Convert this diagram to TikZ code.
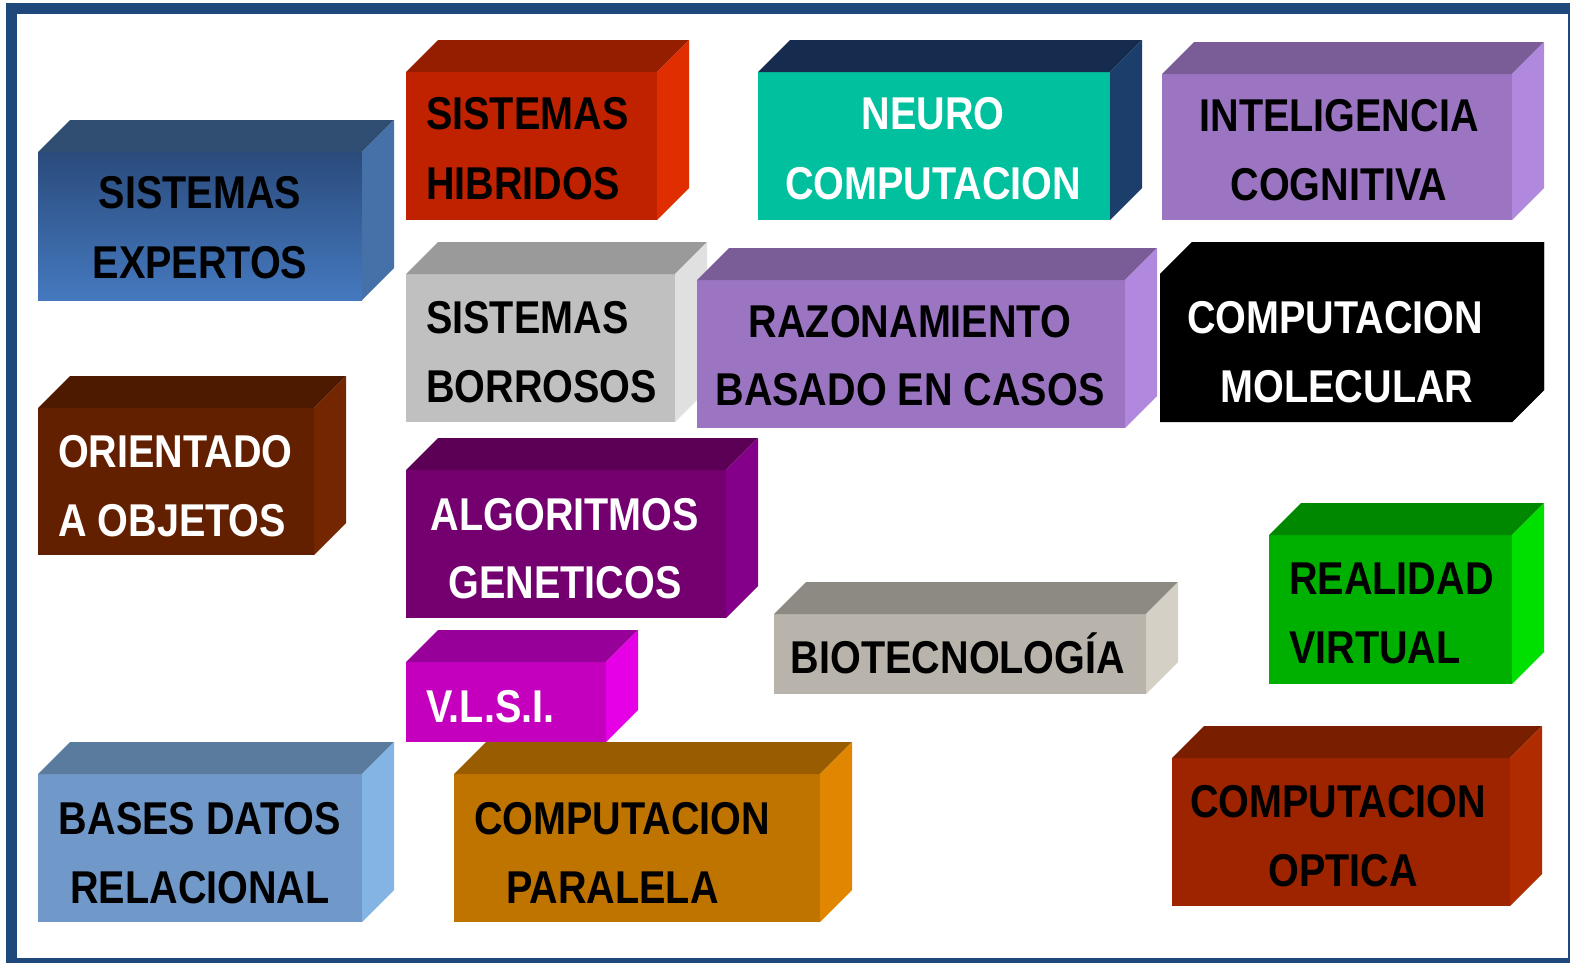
\documentclass[tikz,border=0pt]{standalone}
\usepackage{fontspec}
\newfontfamily\boxfont[FakeStretch=0.86]{Liberation Sans}
\definecolor{frameblue}{HTML}{1F497D}
\definecolor{eA}{HTML}{2A4B7C}\definecolor{eB}{HTML}{4579BF}\definecolor{eT}{HTML}{2F4E72}\definecolor{eS}{HTML}{4670A8}
\definecolor{hF}{HTML}{C02200}\definecolor{hT}{HTML}{961E00}\definecolor{hS}{HTML}{E02E00}
\definecolor{nF}{HTML}{00C09E}\definecolor{nT}{HTML}{152C4E}\definecolor{nS}{HTML}{1C3E6A}
\definecolor{pF}{HTML}{9B75C2}\definecolor{pT}{HTML}{7A5C96}\definecolor{pS}{HTML}{B088DE}
\definecolor{gF}{HTML}{C0C0C0}\definecolor{gT}{HTML}{9A9A9A}\definecolor{gS}{HTML}{E0E0E0}
\definecolor{oF}{HTML}{632000}\definecolor{oT}{HTML}{4D1A00}\definecolor{oS}{HTML}{742600}
\definecolor{aF}{HTML}{740070}\definecolor{aT}{HTML}{5C0056}\definecolor{aS}{HTML}{84008A}
\definecolor{vF}{HTML}{C400BE}\definecolor{vT}{HTML}{98009A}\definecolor{vS}{HTML}{E600E6}
\definecolor{bF}{HTML}{B8B4AC}\definecolor{bT}{HTML}{8C8A82}\definecolor{bS}{HTML}{D4D0C6}
\definecolor{rF}{HTML}{00B000}\definecolor{rT}{HTML}{008800}\definecolor{rS}{HTML}{00E000}
\definecolor{dF}{HTML}{7098C8}\definecolor{dT}{HTML}{5A7A9E}\definecolor{dS}{HTML}{84B4E4}
\definecolor{cF}{HTML}{C07400}\definecolor{cT}{HTML}{9A5C00}\definecolor{cS}{HTML}{E08600}
\definecolor{qF}{HTML}{9E2400}\definecolor{qT}{HTML}{7A1E00}\definecolor{qS}{HTML}{B02C00}
\tikzset{
  face/.style={rectangle, inner sep=0pt, outer sep=0pt, draw=none},
  lbl/.style={font=\boxfont\bfseries\fontsize{46}{55}\selectfont, inner sep=0pt, anchor=base},
  wt/.style={text=white}, bk/.style={text=black}
}
\newcommand\cubo[8]{%
  \node[face, #6, minimum width={#4-#2}, minimum height={#5-#3}] (#1) at ({(#2+#4)/2},{(#3+#5)/2}) {};
  \fill[#7] (#1.north west) -- ++(32,-32) -- ([shift={(32,-32)}]#1.north east) -- (#1.north east) -- cycle;
  \fill[#8] (#1.north east) -- ++(32,-32) -- ([shift={(32,-32)}]#1.south east) -- (#1.south east) -- cycle;
}
\begin{document}
\begin{tikzpicture}[x=1pt,y=-1pt]
\useasboundingbox (0,0) rectangle (1570,962);
\fill[white] (0,0) rectangle (1570,962);
\draw[line width=11pt, frameblue] (11.5,8.5) rectangle (1573,963.5);

\cubo{b1}{38}{152}{362}{300}{top color=eA,bottom color=eB}{eT}{eS}
\cubo{b2}{406}{72}{657}{220}{fill=hF}{hT}{hS}
\cubo{b3}{758}{72}{1110}{220}{fill=nF}{nT}{nS}
\cubo{b4}{1162}{74}{1512}{220}{fill=pF}{pT}{pS}
\cubo{b5}{406}{274}{675}{422}{fill=gF}{gT}{gS}
\cubo{b6}{697}{280}{1125}{428}{fill=pF}{pT}{pS}
\cubo{b7}{1160}{274}{1512}{422}{fill=black}{black}{black}
\fill[black] (b7.north west) -- ++(32,-32) -- ([shift={(32,-32)}]b7.north east) -- ([shift={(32,-32)}]b7.south east) -- (b7.south east) -- (b7.south west) -- cycle;
\cubo{b8}{38}{408}{314}{555}{fill=oF}{oT}{oS}
\cubo{b9}{406}{470}{726}{618}{fill=aF}{aT}{aS}
\cubo{b10}{406}{662}{606}{742}{fill=vF}{vT}{vS}
\cubo{b11}{774}{614}{1146}{694}{fill=bF}{bT}{bS}
\cubo{b12}{1269}{535}{1512}{684}{fill=rF}{rT}{rS}
\cubo{b13}{38}{774}{362}{922}{fill=dF}{dT}{dS}
\cubo{b14}{454}{774}{820}{922}{fill=cF}{cT}{cS}
\cubo{b15}{1172}{758}{1510}{906}{fill=qF}{qT}{qS}

\node[lbl,bk] (t1a) at (200,208) {SISTEMAS};
\node[lbl,bk] (t1b) at (200,278) {EXPERTOS};
\node[lbl,bk,anchor=base west] (t2a) at (426,129) {SISTEMAS};
\node[lbl,bk,anchor=base west] (t2b) at (426,199) {HIBRIDOS};
\node[lbl,wt] (t3a) at (933,129) {NEURO};
\node[lbl,wt] (t3b) at (933,199) {COMPUTACION};
\node[lbl,bk] (t4a) at (1339,131) {INTELIGENCIA};
\node[lbl,bk] (t4b) at (1339,200) {COGNITIVA};
\node[lbl,bk,anchor=base west] (t5a) at (426,333) {SISTEMAS};
\node[lbl,bk,anchor=base west] (t5b) at (426,402) {BORROSOS};
\node[lbl,bk] (t6a) at (910,337) {RAZONAMIENTO};
\node[lbl,bk] (t6b) at (910,405) {BASADO EN CASOS};
\node[lbl,wt] (t7a) at (1335,333) {COMPUTACION};
\node[lbl,wt] (t7b) at (1347,402) {MOLECULAR};
\node[lbl,wt,anchor=base west] (t8a) at (58,467) {ORIENTADO};
\node[lbl,wt,anchor=base west] (t8b) at (58,536) {A OBJETOS};
\node[lbl,wt] (t9a) at (565,530) {ALGORITMOS};
\node[lbl,wt] (t9b) at (565,598) {GENETICOS};
\node[lbl,wt,anchor=base west] (t10) at (426,722) {V.L.S.I.};
\node[lbl,bk] (t11) at (958,673) {BIOTECNOLOGÍA};
\node[lbl,bk,anchor=base west] (t12a) at (1289,594) {REALIDAD};
\node[lbl,bk,anchor=base west] (t12b) at (1289,663) {VIRTUAL};
\node[lbl,bk] (t13a) at (200,834) {BASES DATOS};
\node[lbl,bk] (t13b) at (200,903) {RELACIONAL};
\node[lbl,bk,anchor=base west] (t14a) at (474,834) {COMPUTACION};
\node[lbl,bk,anchor=base west] (t14b) at (506,903) {PARALELA};
\node[lbl,bk] (t15a) at (1338,817) {COMPUTACION};
\node[lbl,bk] (t15b) at (1343,886) {OPTICA};
\end{tikzpicture}
\end{document}
